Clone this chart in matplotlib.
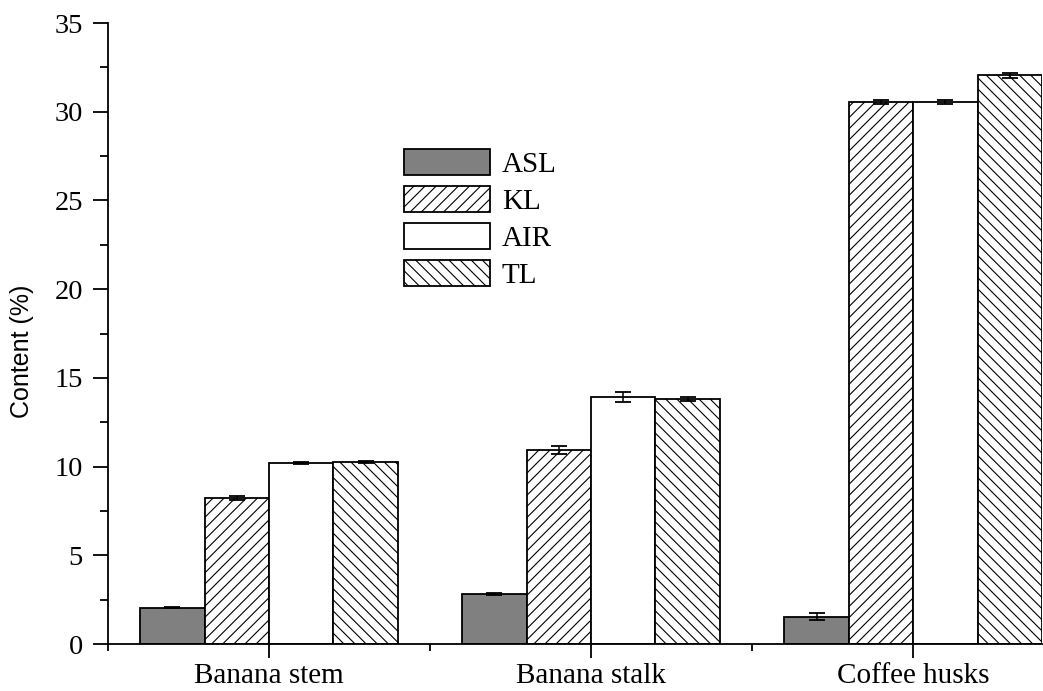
import numpy as np
import matplotlib
matplotlib.use("Agg")
import matplotlib.pyplot as plt
from matplotlib.ticker import MultipleLocator, FixedLocator

samples = ["Banana stem", "Banana stalk", "Coffee husks"]
series = ["ASL", "KL", "AIR", "TL"]

asl = [2.05, 2.82, 1.54]
kl = [8.23, 10.94, 30.55]
air = [10.20, 13.90, 30.55]
tl = [10.28, 13.80, 32.05]

asl_err = [0.03, 0.03, 0.19]
kl_err = [0.10, 0.23, 0.10]
air_err = [0.06, 0.28, 0.10]
tl_err = [0.06, 0.12, 0.14]

values = [asl, kl, air, tl]
errors = [asl_err, kl_err, air_err, tl_err]
faces = ["#808080", "white", "white", "white"]
hatches = [None, "///", None, "\\\\\\"]

plt.rcParams["hatch.linewidth"] = 0.8
serif = "Liberation Serif"

fig = plt.figure(figsize=(10.43, 6.91), dpi=100)
ax = fig.add_axes([0.1035, 0.068, 0.8955, 0.8987])

x = np.arange(1, len(samples) + 1)
width = 0.2
offsets = [-1.5, -0.5, 0.5, 1.5]
for vals, errs, fc, h, off, name in zip(values, errors, faces, hatches, offsets, series):
    ax.bar(x + off * width, vals, width, color=fc, edgecolor="black",
           linewidth=1.3, hatch=h, label=name, zorder=2)
    ax.errorbar(x + off * width, vals, yerr=errs, fmt="none", ecolor="black",
                elinewidth=1.1, capsize=5.5, capthick=1.3, zorder=3)

ax.set_xlim(0.5, 3.4)
ax.set_ylim(0, 35)

for side in ("top", "right"):
    ax.spines[side].set_visible(False)
for side in ("left", "bottom"):
    ax.spines[side].set_linewidth(1.3)

ax.yaxis.set_major_locator(MultipleLocator(5))
ax.yaxis.set_minor_locator(MultipleLocator(2.5))
ax.set_xticks(x)
ax.set_xticklabels(samples)
ax.xaxis.set_minor_locator(FixedLocator([0.5, 1.5, 2.5]))

ax.tick_params(axis="y", which="major", direction="out", length=11, width=1.3, pad=7)
ax.tick_params(axis="y", which="minor", direction="out", length=6, width=1.3)
ax.tick_params(axis="x", which="major", direction="out", length=10, width=1.3, pad=4)
ax.tick_params(axis="x", which="minor", direction="out", length=5, width=1.3)

for lab in ax.get_yticklabels():
    lab.set_fontfamily(serif)
    lab.set_fontsize(20.5)
for lab in ax.get_xticklabels():
    lab.set_fontfamily(serif)
    lab.set_fontsize(21)

ax.set_ylabel("Content (%)", fontfamily="Liberation Sans", fontsize=18)
ax.yaxis.set_label_coords(-0.079, 0.472)

leg = ax.legend(loc="upper left", bbox_to_anchor=(0.317, 0.797), frameon=False,
                prop={"family": serif, "size": 21}, handlelength=2.95,
                handleheight=0.98, handletextpad=0.4, labelspacing=0.28,
                borderpad=0, borderaxespad=0)

fig.savefig("out.png", dpi=100)
